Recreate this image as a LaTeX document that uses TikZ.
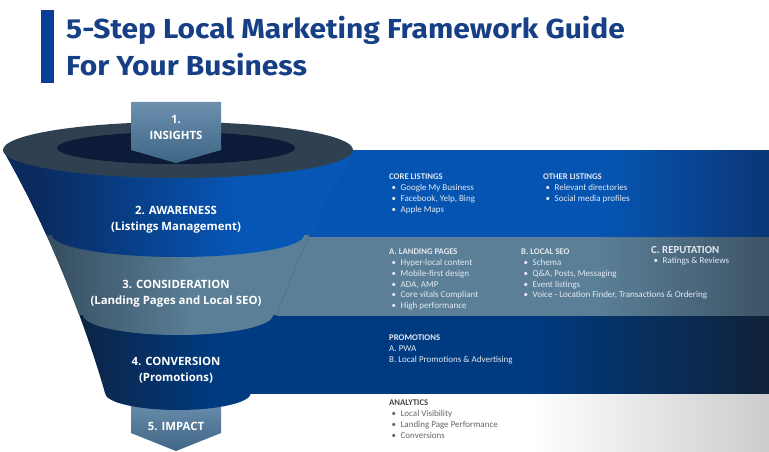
\documentclass[tikz,border=0pt]{standalone}
\usepackage{fontspec}
\setmainfont{Carlito}
\newfontfamily\titlefont[FakeStretch=1.09]{Fira Sans}
\newfontfamily\stagefont{Open Sans}
\usepackage{xcolor}
\tikzset{>=latex}
\definecolor{titleblue}{HTML}{163F85}
\definecolor{barblue}{HTML}{0A3D96}
\definecolor{rimgrey}{HTML}{2F4150}
\definecolor{rimdark}{HTML}{0C1B37}
\definecolor{awaredark}{HTML}{0A2A5E}
\definecolor{awarebright}{HTML}{0656B6}
\definecolor{awarerect}{HTML}{0654B2}
\definecolor{awareend}{HTML}{0C2C5F}
\definecolor{considdark}{HTML}{2E4555}
\definecolor{considbright}{HTML}{5B7F97}
\definecolor{considend}{HTML}{2A3846}
\definecolor{convdark}{HTML}{0F1F38}
\definecolor{convbright}{HTML}{003B82}
\definecolor{convend}{HTML}{15191E}
\definecolor{impactgrey}{HTML}{C4C4C4}
\definecolor{arrowtop}{HTML}{6C90AE}
\definecolor{arrowbot}{HTML}{3F6585}
\definecolor{listtext}{HTML}{E4EAF1}
\definecolor{impacthead}{HTML}{474747}
\definecolor{impacttext}{HTML}{666666}
\pgfdeclarehorizontalshading{awarefun}{100bp}{color(0bp)=(awaredark); color(30bp)=(awaredark); color(58bp)=(awarebright); color(100bp)=(awarebright)}
\pgfdeclarehorizontalshading{considfun}{100bp}{color(0bp)=(considdark); color(28bp)=(considdark); color(52bp)=(considbright); color(100bp)=(considbright)}
\pgfdeclarehorizontalshading{convfun}{100bp}{color(0bp)=(convdark); color(32bp)=(convdark); color(55bp)=(convbright); color(100bp)=(convbright)}
\pgfdeclarehorizontalshading{awarebar}{100bp}{color(0bp)=(awarerect); color(58bp)=(awarerect); color(81bp)=(awareend); color(100bp)=(awareend)}
\pgfdeclarehorizontalshading{considbar}{100bp}{color(0bp)=(considbright); color(58bp)=(considbright); color(86bp)=(considend); color(100bp)=(considend)}
\pgfdeclarehorizontalshading{convbar}{100bp}{color(0bp)=(convbright); color(52bp)=(convbright); color(83bp)=(convend); color(100bp)=(convend)}
\pgfdeclarehorizontalshading{impactbar}{100bp}{color(0bp)=(white); color(45bp)=(white); color(80bp)=(impactgrey); color(100bp)=(impactgrey)}
\newcommand{\blt}{\hspace*{2.5pt}\makebox[9pt][l]{\textbullet}}
\newcommand{\hd}[1]{{\bfseries\fontsize{8.7}{10.7}\selectfont #1}}
\tikzset{
  titletext/.style={anchor=base west, inner sep=0, text=titleblue, font=\titlefont\bfseries\fontsize{27.5}{30}\selectfont},
  stage/.style={align=center, text=white, inner sep=0, font=\stagefont\bfseries\fontsize{11.4}{16}\selectfont},
  listtext/.style={anchor=north west, align=left, inner sep=0, text=listtext, font=\fontsize{9}{10.7}\selectfont},
  pointer/.style={top color=arrowtop, bottom color=arrowbot}
}

\begin{document}
\begin{tikzpicture}[x=1pt, y=-1pt]
  \useasboundingbox (0,0) rectangle (769,452);
  \fill[barblue] (41,10) rectangle (54,83);
  \node[titletext] (title1) at (66,39) {5-Step Local Marketing Framework Guide};
  \node[titletext] (title2) at (66,76) {For Your Business};
  \shade[shading=impactbar] (370,393) rectangle (769,452);
  \shade[pointer] (131,400) -- (221,400) -- (221,433) -- (176,451) -- (131,433) -- cycle;
  \shade[shading=convbar] (245,315) rectangle (769,393);
  \shade[shading=considbar] (267,236) rectangle (769,315);
  \shade[shading=awarebar] (300,150) rectangle (769,236);
  \begin{scope}
    \clip (3,150) .. controls (55,240) and (90,340) .. (105,393) -- (105,440) -- (251,440) -- (251,393) .. controls (266,340) and (301,240) .. (353,150) -- cycle;
    \shade[shading=convfun] (0,100) -- (0,393) -- (105,393) arc[start angle=180, end angle=0, x radius=73, y radius=17] -- (360,393) -- (360,100) -- cycle;
    \shade[shading=considfun] (0,100) -- (0,315) -- (83,315) arc[start angle=180, end angle=0, x radius=95, y radius=20] -- (360,315) -- (360,100) -- cycle;
    \shade[shading=awarefun] (0,100) -- (0,235) -- (52,235) arc[start angle=180, end angle=0, x radius=126, y radius=22] -- (360,235) -- (360,100) -- cycle;
  \end{scope}
  \fill[rimgrey] (178,150) ellipse [x radius=175, y radius=28];
  \fill[rimdark] (176,148) ellipse [x radius=119, y radius=16];
  \shade[pointer] (131,102) -- (221,102) -- (221,150) -- (176,163) -- (131,150) -- cycle;
  \node[stage] (insights) at (176,127) {1.\\INSIGHTS};
  \node[stage] (awareness) at (176,219.5) {2. AWARENESS\\(Listings Management)};
  \node[stage] (consideration) at (176,294) {3. CONSIDERATION\\(Landing Pages and Local SEO)};
  \node[stage] (conversion) at (176,370) {4. CONVERSION\\(Promotions)};
  \node[stage] (impact) at (176,426) {5. IMPACT};
  \node[listtext] (core) at (389,174) {\hd{CORE LISTINGS}\\\blt Google My Business\\\blt Facebook, Yelp, Bing\\\blt Apple Maps};
  \node[listtext] (other) at (543,174) {\hd{OTHER LISTINGS}\\\blt Relevant directories\\\blt Social media profiles};
  \node[listtext] (landing) at (389,249) {\hd{A. LANDING PAGES}\\\blt Hyper-local content\\\blt Mobile-first design\\\blt ADA, AMP\\\blt Core vitals Compliant\\\blt High performance};
  \node[listtext] (localseo) at (521,249) {\hd{B. LOCAL SEO}\\\blt Schema\\\blt Q\&A, Posts, Messaging\\\blt Event listings\\\blt Voice - Location Finder, Transactions \& Ordering};
  \node[listtext] (reputation) at (651,246) {{\bfseries\fontsize{10.8}{12}\selectfont C. REPUTATION}\\\blt Ratings \& Reviews};
  \node[listtext] (promotions) at (389,335) {\hd{PROMOTIONS}\\A. PWA\\B. Local Promotions \& Advertising};
  \node[listtext, text=impacttext] (analytics) at (389,400) {{\color{impacthead}\hd{ANALYTICS}}\\\blt Local Visibility\\\blt Landing Page Performance\\\blt Conversions};
\end{tikzpicture}
\end{document}
